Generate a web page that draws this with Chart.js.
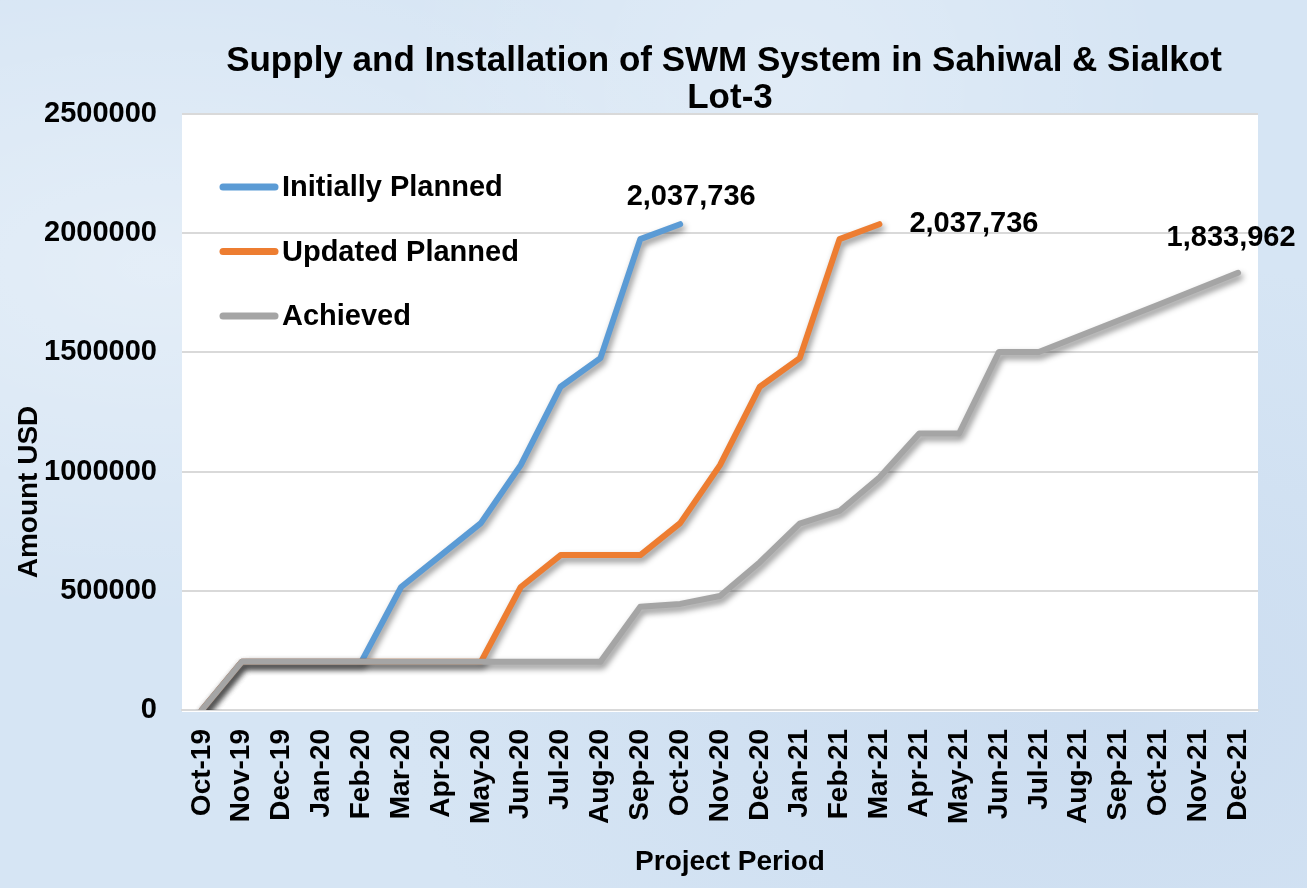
<!DOCTYPE html>
<html><head><meta charset="utf-8">
<script src="https://cdn.jsdelivr.net/npm/chart.js@4.4.0/dist/chart.umd.min.js"></script>
<style>
html,body{margin:0;padding:0;background:#d7e6f5;}
#wrap{width:1307px;height:888px;position:relative;
  background:
    radial-gradient(ellipse at 12% 30%, rgba(255,255,255,0.35), rgba(255,255,255,0) 40%),
    radial-gradient(ellipse at 85% 80%, rgba(190,210,235,0.45), rgba(190,210,235,0) 45%),
    radial-gradient(ellipse at 60% 10%, rgba(255,255,255,0.25), rgba(255,255,255,0) 35%),
    #d6e5f4;}
canvas{display:block;}
</style></head><body>
<div id="wrap"><canvas id="c" width="1307" height="888"></canvas></div>
<script>
const months = ['Oct-19','Nov-19','Dec-19','Jan-20','Feb-20','Mar-20','Apr-20','May-20','Jun-20','Jul-20','Aug-20','Sep-20','Oct-20','Nov-20','Dec-20','Jan-21','Feb-21','Mar-21','Apr-21','May-21','Jun-21','Jul-21','Aug-21','Sep-21','Oct-21','Nov-21','Dec-21'];
const initiallyPlanned = [0,202000,202000,202000,202000,516000,650000,784000,1027000,1356000,1476000,1975000,2037736,null,null,null,null,null,null,null,null,null,null,null,null,null,null];
const updatedPlanned = [0,202000,202000,202000,202000,202000,202000,202000,516000,650000,650000,650000,784000,1027000,1356000,1476000,1975000,2037736,null,null,null,null,null,null,null,null,null];
const achieved = [0,202000,202000,202000,202000,202000,202000,202000,202000,202000,202000,433000,445000,478000,620000,782000,835000,975000,1160000,1160000,1502000,1502000,1568000,1634000,1700000,1767000,1833962];
const yTicks = [0,500000,1000000,1500000,2000000,2500000];
const seriesNames = ['Initially Planned','Updated Planned','Achieved'];
const seriesColors = ['#5B9BD5','#ED7D31','#A5A5A5'];
const titleLines = ['Supply and Installation of SWM System in Sahiwal & Sialkot','Lot-3'];
const xTitle = 'Project Period';
const yTitle = 'Amount USD';

const FONT = '"Liberation Sans", Arial, Helvetica, sans-serif';

function lastIndex(arr){ for(let i=arr.length-1;i>=0;i--){ if(arr[i]!==null) return i; } return -1; }

const labelPlacement = [
  {dx: 11, dy: -27, align: 'center'},
  {dx: 30, dy: 0, align: 'left'},
  {dx: -7, dy: -35, align: 'center'}
];

const decor = {
  id: 'decor',
  beforeDraw(chart){
    const {ctx, chartArea:a} = chart;
    ctx.save();
    ctx.fillStyle = '#ffffff';
    ctx.fillRect(a.left, a.top, a.right - a.left, a.bottom - a.top + 2);
    ctx.restore();
  },
  beforeDatasetDraw(chart){
    const ctx = chart.ctx;
    ctx.save();
    ctx.shadowColor = 'rgba(0,0,0,0.45)';
    ctx.shadowBlur = 6;
    ctx.shadowOffsetX = 2;
    ctx.shadowOffsetY = 4;
  },
  afterDatasetDraw(chart){
    chart.ctx.restore();
  },
  afterDraw(chart){
    const ctx = chart.ctx;
    ctx.save();
    ctx.fillStyle = '#000';
    // title
    ctx.font = 'bold 35px ' + FONT;
    ctx.textAlign = 'center';
    ctx.textBaseline = 'middle';
    ctx.fillText(titleLines[0], 724, 61);
    ctx.fillText(titleLines[1], 730, 98);
    // legend
    ctx.font = 'bold 29px ' + FONT;
    ctx.textAlign = 'left';
    seriesNames.forEach((name, i) => {
      const y = 187 + i * 64.5;
      ctx.strokeStyle = seriesColors[i];
      ctx.lineWidth = 7;
      ctx.lineCap = 'round';
      ctx.beginPath();
      ctx.moveTo(223, y);
      ctx.lineTo(275, y);
      ctx.stroke();
      ctx.fillText(name, 282, y + 1);
    });
    // axis titles
    ctx.font = 'bold 28px ' + FONT;
    ctx.textAlign = 'center';
    ctx.fillText(xTitle, 730, 862);
    ctx.save();
    ctx.translate(29, 492);
    ctx.rotate(-Math.PI / 2);
    ctx.fillText(yTitle, 0, 0);
    ctx.restore();
    // data labels
    ctx.font = 'bold 29px ' + FONT;
    chart.data.datasets.forEach((ds, i) => {
      const idx = lastIndex(ds.data);
      const pt = chart.getDatasetMeta(i).data[idx];
      const p = labelPlacement[i];
      ctx.textAlign = p.align;
      ctx.fillText(ds.data[idx].toLocaleString('en-US'), pt.x + p.dx, pt.y + p.dy);
    });
    ctx.restore();
  }
};

const commonLine = {
  borderWidth: 6,
  pointRadius: 0,
  pointHoverRadius: 0,
  tension: 0,
  fill: false,
  borderCapStyle: 'round',
  borderJoinStyle: 'round',
  spanGaps: false
};

new Chart(document.getElementById('c'), {
  type: 'line',
  data: {
    labels: months,
    datasets: [
      Object.assign({label: seriesNames[0], data: initiallyPlanned, borderColor: seriesColors[0], order: 3}, commonLine),
      Object.assign({label: seriesNames[1], data: updatedPlanned, borderColor: seriesColors[1], order: 2}, commonLine),
      Object.assign({label: seriesNames[2], data: achieved, borderColor: seriesColors[2], order: 1}, commonLine)
    ]
  },
  options: {
    responsive: false,
    animation: false,
    events: [],
    layout: {padding: {top: 114, left: 0, right: 49, bottom: 8}},
    plugins: {legend: {display: false}, title: {display: false}, tooltip: {enabled: false}},
    scales: {
      x: {
        type: 'category',
        offset: true,
        grid: {display: false, drawTicks: false},
        border: {display: true, color: '#D9D9D9', width: 2},
        ticks: {
          autoSkip: false, maxRotation: 90, minRotation: 90, padding: 19,
          color: '#000', font: {family: FONT, size: 28, weight: 'bold'}
        },
        afterFit(scale){ scale.height = 170; }
      },
      y: {
        min: 0, max: 2500000,
        afterBuildTicks(scale){ scale.ticks = yTicks.map(v => ({value: v})); },
        grid: {color: '#D9D9D9', lineWidth: 2, drawTicks: false},
        border: {display: false},
        ticks: {
          padding: 25, color: '#000',
          font: {family: FONT, size: 29, weight: 'bold'},
          callback: v => String(v)
        },
        afterFit(scale){ scale.width = 182; }
      }
    }
  },
  plugins: [decor]
});
</script>
</body></html>
